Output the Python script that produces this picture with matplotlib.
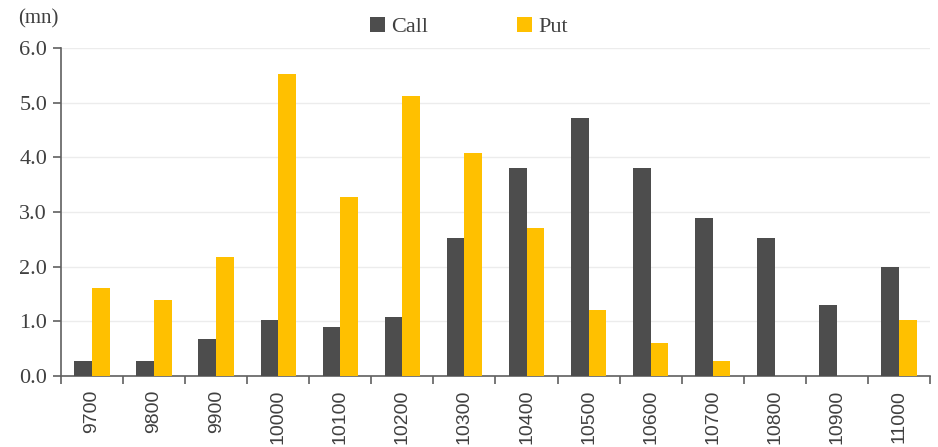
import numpy as np
import matplotlib.pyplot as plt

strikes = ["9700", "9800", "9900", "10000", "10100", "10200", "10300",
           "10400", "10500", "10600", "10700", "10800", "10900", "11000"]
call = [0.28, 0.28, 0.68, 1.02, 0.90, 1.08, 2.52, 3.80, 4.72, 3.80, 2.88, 2.52, 1.30, 2.00]
put = [1.60, 1.38, 2.18, 5.52, 3.28, 5.12, 4.08, 2.70, 1.20, 0.60, 0.28, 0.00, 0.00, 1.02]

serif = ["Liberation Serif", "DejaVu Serif"]

fig = plt.figure(figsize=(9.38, 4.47), dpi=100)
ax = fig.add_axes([0.065, 0.159, 0.9265, 0.734])

x = np.arange(len(strikes))
w = 0.285
ax.bar(x - w / 2, call, w, color="#4d4d4d", label="Call", zorder=3)
ax.bar(x + w / 2, put, w, color="#ffc000", label="Put", zorder=3)

ax.set_xlim(-0.5, len(strikes) - 0.5)
ax.set_ylim(0, 6)
ax.set_yticks(np.arange(0, 6.1, 1.0))
ax.set_yticklabels([f"{v:.1f}" for v in np.arange(0, 6.1, 1.0)],
                   fontfamily=serif, fontsize=16, color="#404040")
ax.yaxis.grid(True, color="#ececec", linewidth=1, zorder=0)

ax.set_xticks(x)
ax.set_xticklabels(strikes, rotation=90, fontsize=14, color="#404040",
                   fontfamily=["Liberation Sans", "DejaVu Sans"])
ax.set_xticks(np.arange(-0.5, len(strikes), 1.0), minor=True)
ax.tick_params(axis="x", which="major", length=0, pad=10)
ax.tick_params(axis="x", which="minor", length=6, color="#606060", width=1.2)
ax.tick_params(axis="y", length=6, color="#606060", width=1.2, pad=4)

for s in ["top", "right"]:
    ax.spines[s].set_visible(False)
for s in ["left", "bottom"]:
    ax.spines[s].set_color("#606060")
    ax.spines[s].set_linewidth(1.2)

fig.text(0.019, 0.957, "(mn)", fontfamily=serif, fontsize=15, color="#404040",
         va="center")

leg = fig.legend(loc="center", bbox_to_anchor=(0.50, 0.94), ncol=2, frameon=False,
                 prop={"family": serif, "size": 16}, handlelength=0.65,
                 handleheight=0.65, handletextpad=0.3, columnspacing=4.0)
for t in leg.get_texts():
    t.set_color("#404040")

fig.savefig("out.png", dpi=100)
